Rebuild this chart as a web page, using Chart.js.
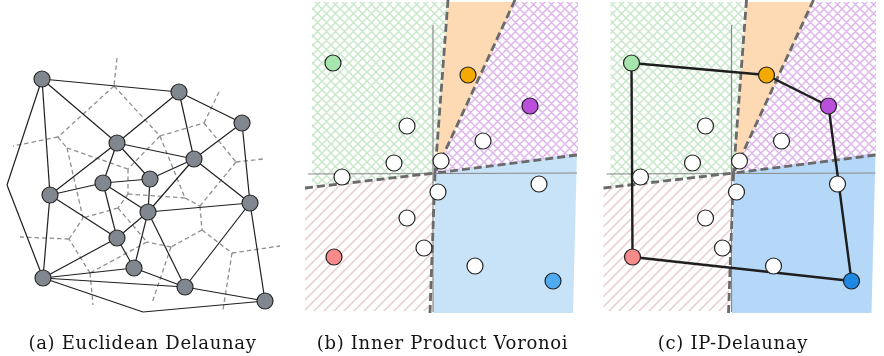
<!DOCTYPE html>
<html>
<head>
<meta charset="utf-8">
<script src="https://cdn.jsdelivr.net/npm/chart.js@4.4.1/dist/chart.umd.min.js"></script>
<style>
  body { margin: 0; background: #fff; width: 884px; height: 356px; position: relative; overflow: hidden; }
  canvas { position: absolute; top: 0; }
</style>
</head>
<body>
<canvas id="ca" width="285" height="356" style="left:0"></canvas>
<canvas id="cb" width="295" height="356" style="left:295px"></canvas>
<canvas id="cc" width="286" height="356" style="left:590px"></canvas>
<script>
// ---- panel (a): Euclidean Delaunay ----
// sites (first 15) + two hull bends without marker
const vertsA = [
  [-1.08, 1.11], [0.29, 0.98], [0.92, 0.67], [-0.33, 0.47], [0.44, 0.31],
  [-0.47, 0.07], [0.00, 0.11], [-1.00, -0.05], [-0.02, -0.22], [1.00, -0.13],
  [-0.33, -0.48], [-0.16, -0.78], [-1.07, -0.88], [0.35, -0.97], [1.15, -1.11],
  [-1.43, 0.05], [-0.07, -1.22]
];
const siteCountA = 15;
const delaunayA = [
  [0,1],[0,3],[0,7],[0,15],[15,12],[12,16],[16,14],[1,3],[1,4],[1,2],[2,4],[2,9],
  [3,4],[3,5],[3,6],[3,7],[4,6],[4,8],[4,9],[5,7],[5,6],[5,8],[5,10],[6,8],
  [7,10],[7,12],[8,9],[8,10],[8,11],[8,13],[9,13],[9,14],[10,11],[10,12],
  [11,12],[11,13],[12,13],[13,14]
];
// voronoi vertices / ray ends, and the dashed edges between them
const vorVertsA = [
  [-0.33, 1.32], [-0.36, 1.04], [-0.92, 0.53], [-0.83, 0.42], [-1.37, 0.44],
  [0.10, 0.54], [0.54, 0.67], [0.70, 1.00], [0.86, 0.28], [1.13, 0.31],
  [-0.22, 0.21], [-0.22, -0.04], [-0.32, -0.18], [-0.67, -0.28], [0.35, -0.08],
  [0.50, -0.16], [0.52, -0.40], [0.82, -0.63], [1.30, -0.56], [0.73, -1.20],
  [0.21, -0.57], [-0.03, -0.52], [-0.60, -0.83], [-0.81, -0.49], [-1.30, -0.47],
  [-0.57, -1.15], [0.02, -1.13]
];
const vorEdgesA = [
  [0,1],[1,2],[1,5],[5,6],[6,7],[6,8],[8,9],[8,15],[5,10],[5,14],[2,4],[2,3],
  [3,10],[3,13],[10,11],[11,14],[11,12],[12,13],[12,21],[14,15],[15,16],[16,20],
  [16,17],[17,18],[17,19],[20,21],[20,26],[21,22],[22,23],[23,13],[23,24],[22,25]
];

// ---- panels (b) and (c): inner product Voronoi / IP-Delaunay ----
const ptsB = [
  [-1.00, 1.11], [0.35, 0.99], [0.97, 0.68], [-0.26, 0.48], [0.50, 0.33],
  [-0.39, 0.11], [0.08, 0.13], [-0.91, -0.03], [0.05, -0.18], [1.06, -0.10],
  [-0.26, -0.44], [-0.09, -0.74], [-0.99, -0.83], [0.42, -0.92], [1.20, -1.07]
];
const ptColorsB = ['#a6e6ae', '#f4aa00', '#b94fdb', '#fff', '#fff', '#fff', '#fff', '#fff',
  '#fff', '#fff', '#fff', '#fff', '#f78b8b', '#fff', '#4faaf0'];
const ptColorsC = ptColorsB.slice(0, 14).concat(['#1f88e2']);
const ipEdges = [[0,1],[1,2],[2,14],[14,12],[12,0]];

const regionGreen  = [[-1.21, 1.72], [0.15, 1.72], [0.02, 0.01], [-1.21, -0.13]];
const regionOrange = [[0.15, 1.72], [0.82, 1.72], [0.02, 0.01]];
const regionPurple = [[0.82, 1.72], [1.45, 1.72], [1.45, 0.19], [0.02, 0.01]];
const regionBlue   = [[0.02, 0.01], [1.44, 0.21], [1.40, -1.39], [0.00, -1.39]];
const regionRed    = [[-1.28, -0.14], [0.02, 0.01], [-0.03, -1.37], [-1.28, -1.37]];
const boundaries = [
  [[0.15, 1.74], [0.02, 0.01]], [[0.82, 1.74], [0.02, 0.01]], [[1.44, 0.19], [0.02, 0.01]],
  [[-1.28, -0.14], [0.02, 0.01]], [[-0.03, -1.39], [0.02, 0.01]]
];
const axisLines = [[[0.00, 1.49], [0.00, -1.38]], [[-1.25, 0.00], [1.44, 0.01]]];

const captions = ['(a) Euclidean Delaunay', '(b) Inner Product Voronoi', '(c) IP-Delaunay'];

function hatch(color, size, cross) {
  const c = document.createElement('canvas');
  c.width = c.height = size;
  const g = c.getContext('2d');
  g.strokeStyle = color;
  g.lineWidth = 1.5;
  g.beginPath();
  g.moveTo(-2, size + 2); g.lineTo(size + 2, -2);
  g.moveTo(-2, 2); g.lineTo(2, -2);
  g.moveTo(size - 2, size + 2); g.lineTo(size + 2, size - 2);
  if (cross) {
    g.moveTo(-2, -2); g.lineTo(size + 2, size + 2);
    g.moveTo(size - 2, -2); g.lineTo(size + 2, 2);
    g.moveTo(-2, size - 2); g.lineTo(2, size + 2);
  }
  g.stroke();
  return g.createPattern(c, 'repeat');
}

const xy = p => ({x: p[0], y: p[1]});

function seg(p, q, color, width, dash, order) {
  return {data: [xy(p), xy(q)], showLine: true, pointRadius: 0, borderColor: color,
    borderWidth: width, borderDash: dash, order: order};
}
function region(poly, bg) {
  return {data: poly.concat([poly[0]]).map(xy), showLine: true, fill: 'shape', backgroundColor: bg,
    borderColor: 'rgba(0,0,0,0)', borderWidth: 1, pointRadius: 0, order: 9};
}

// the LaTeX captions are set wider than DejaVu Serif, open the letters a bit
const spacing = {id: 'spacing', beforeDraw: chart => { chart.ctx.letterSpacing = '0.7px'; }};

function makeChart(id, xMin, xMax, yMin, yMax, datasets, caption) {
  return new Chart(document.getElementById(id), {
    type: 'scatter',
    data: {datasets: datasets},
    plugins: [spacing],
    options: {
      responsive: false,
      animation: false,
      events: [],
      layout: {padding: 0, autoPadding: false},
      scales: {
        x: {type: 'linear', display: false, min: xMin, max: xMax},
        y: {type: 'linear', display: false, min: yMin, max: yMax}
      },
      plugins: {
        legend: {display: false},
        tooltip: {enabled: false},
        title: {display: true, position: 'bottom', text: caption, color: '#141414',
          font: {family: 'DejaVu Serif', size: 18, weight: 'normal', lineHeight: 1.2},
          padding: {top: 14, bottom: 0.4}}
      }
    }
  });
}

// panel a
let dsA = [];
vorEdgesA.forEach(e => dsA.push(seg(vorVertsA[e[0]], vorVertsA[e[1]], '#8f8f8f', 1.3, [4.5, 3], 3)));
delaunayA.forEach(e => dsA.push(seg(vertsA[e[0]], vertsA[e[1]], '#1f1f1f', 1.2, [], 2)));
dsA.push({data: vertsA.slice(0, siteCountA).map(xy), pointRadius: 8, pointBackgroundColor: '#80878e',
  pointBorderColor: '#2a2a2a', pointBorderWidth: 1.2, order: 0});
makeChart('ca', -1.5, 1.35, -1.30, 1.90, dsA, captions[0]);

// panels b and c
function voronoiSets(blue, colors, withEdges) {
  let ds = [];
  ds.push(region(regionGreen, hatch('#c9e7cb', 9, true)));
  ds.push(region(regionOrange, '#fddab3'));
  ds.push(region(regionPurple, hatch('#dfb6ec', 9, true)));
  ds.push(region(regionBlue, blue));
  ds.push(region(regionRed, hatch('#e8cdcd', 10, false)));
  axisLines.forEach(l => ds.push(seg(l[0], l[1], '#8a8a8a', 1.2, [], 5)));
  boundaries.forEach(l => ds.push(seg(l[0], l[1], '#6a6a6a', 2.8, [8, 4], 4)));
  if (withEdges) ipEdges.forEach(e => ds.push(seg(ptsB[e[0]], ptsB[e[1]], '#1e1e1e', 2.4, [], 2)));
  ds.push({data: ptsB.map(xy), pointRadius: 8, pointBackgroundColor: colors,
    pointBorderColor: '#222', pointBorderWidth: 1.2, order: 0});
  return ds;
}
makeChart('cb', -1.38, 1.57, -1.46, 1.74, voronoiSets('#c8e3f8', ptColorsB, false), captions[1]);
makeChart('cc', -1.415, 1.445, -1.46, 1.74, voronoiSets('#b5d8f8', ptColorsC, true), captions[2]);
</script>
</body>
</html>
